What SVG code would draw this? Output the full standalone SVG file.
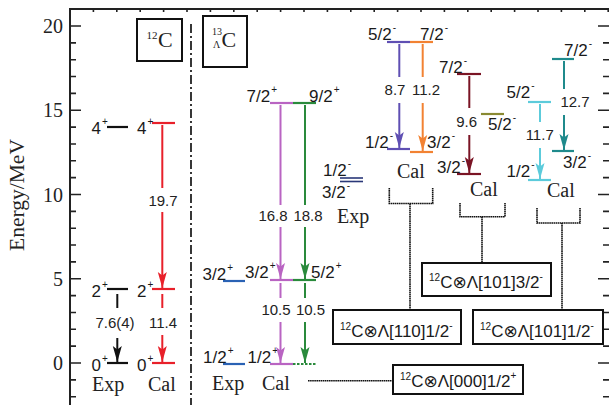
<svg xmlns="http://www.w3.org/2000/svg" width="609" height="405" viewBox="0 0 609 405">
<style>
.ax{stroke:#222;stroke-width:2;fill:none}
.tk{stroke:#222;stroke-width:1.6;fill:none}
.lv{stroke-width:2.2;fill:none}
.ar{stroke-width:2;fill:none}
.dt{stroke:#111;stroke-width:1.6;fill:none;stroke-dasharray:1.6 0.5}
.box{fill:none;stroke:#111;stroke-width:2}
.lbl{font-family:"Liberation Sans","DejaVu Sans",Arial,sans-serif;font-size:17px;fill:#1a1a1a}
.num{font-family:"Liberation Sans",Arial,sans-serif;font-size:15px;fill:#222;text-anchor:middle}
.srf{font-family:"Liberation Serif","Times New Roman",serif;font-size:20px;fill:#222}
.sp{font-size:10px}
</style>
<defs>
<marker id="mk" viewBox="0 0 16 10" refX="16" refY="5" markerWidth="16" markerHeight="10" markerUnits="userSpaceOnUse" orient="auto"><path d="M0,0.5L16,5L0,9.5L3.5,5z" fill="#111"/></marker>
<marker id="mr" viewBox="0 0 16 10" refX="16" refY="5" markerWidth="16" markerHeight="10" markerUnits="userSpaceOnUse" orient="auto"><path d="M0,0.5L16,5L0,9.5L3.5,5z" fill="#e8202a"/></marker>
<marker id="mv" viewBox="0 0 16 10" refX="16" refY="5" markerWidth="16" markerHeight="10" markerUnits="userSpaceOnUse" orient="auto"><path d="M0,0.5L16,5L0,9.5L3.5,5z" fill="#b964c2"/></marker>
<marker id="mg" viewBox="0 0 16 10" refX="16" refY="5" markerWidth="16" markerHeight="10" markerUnits="userSpaceOnUse" orient="auto"><path d="M0,0.5L16,5L0,9.5L3.5,5z" fill="#2a8a3c"/></marker>
<marker id="mb" viewBox="0 0 16 10" refX="16" refY="5" markerWidth="16" markerHeight="10" markerUnits="userSpaceOnUse" orient="auto"><path d="M0,0.5L16,5L0,9.5L3.5,5z" fill="#5f4fb3"/></marker>
<marker id="mo" viewBox="0 0 16 10" refX="16" refY="5" markerWidth="16" markerHeight="10" markerUnits="userSpaceOnUse" orient="auto"><path d="M0,0.5L16,5L0,9.5L3.5,5z" fill="#f28232"/></marker>
<marker id="md" viewBox="0 0 16 10" refX="16" refY="5" markerWidth="16" markerHeight="10" markerUnits="userSpaceOnUse" orient="auto"><path d="M0,0.5L16,5L0,9.5L3.5,5z" fill="#7a1424"/></marker>
<marker id="mc" viewBox="0 0 16 10" refX="16" refY="5" markerWidth="16" markerHeight="10" markerUnits="userSpaceOnUse" orient="auto"><path d="M0,0.5L16,5L0,9.5L3.5,5z" fill="#5ccbdb"/></marker>
<marker id="mt" viewBox="0 0 16 10" refX="16" refY="5" markerWidth="16" markerHeight="10" markerUnits="userSpaceOnUse" orient="auto"><path d="M0,0.5L16,5L0,9.5L3.5,5z" fill="#1f8a8c"/></marker>
</defs>
<rect width="609" height="405" fill="#fff"/>

<g id="axes">
<path class="ax" d="M70,405V9H609"/>
<path class="tk" d="M70,396.7h6M70,379.85h6M70,346.15h6M70,329.3h6M70,312.45h6M70,295.6h6M70,261.9h6M70,245.05h6M70,228.2h6M70,211.35h6M70,177.65h6M70,160.8h6M70,143.95h6M70,127.1h6M70,93.4h6M70,76.55h6M70,59.7h6M70,42.85h6"/>
<path class="tk" d="M70,363h11M70,278.75h11M70,194.5h11M70,110.25h11M70,26h11"/>
<path class="tk" d="M609,396.7h-6M609,379.85h-6M609,346.15h-6M609,329.3h-6M609,312.45h-6M609,295.6h-6M609,261.9h-6M609,245.05h-6M609,228.2h-6M609,211.35h-6M609,177.65h-6M609,160.8h-6M609,143.95h-6M609,127.1h-6M609,93.4h-6M609,76.55h-6M609,59.7h-6M609,42.85h-6"/>
<path class="tk" d="M609,363h-11M609,278.75h-11M609,194.5h-11M609,110.25h-11M609,26h-11"/>
<path class="tk" stroke-width="1.2" d="M93.4,9v3M116.8,9v3M140.2,9v3M163.6,9v3M187,9v3M210.4,9v3M233.8,9v3M257.2,9v3M280.6,9v3M304,9v3M327.4,9v3M350.8,9v3M374.2,9v3M397.6,9v3M421,9v3M444.4,9v3M467.8,9v3M491.2,9v3M514.6,9v3M538,9v3M561.4,9v3M584.8,9v3M608.2,9v3"/>
<g class="srf" text-anchor="end">
<text x="63" y="33">20</text>
<text x="63" y="117">15</text>
<text x="63" y="201.5">10</text>
<text x="63" y="286">5</text>
<text x="63" y="370">0</text>
</g>
<text class="srf" style="font-size:21.5px" text-anchor="middle" transform="translate(23.5,195) rotate(-90)">Energy/MeV</text>
<line x1="191" y1="24" x2="191" y2="405" stroke="#222" stroke-width="1.8" stroke-dasharray="9 3 2 3"/>
</g>

<g id="title-12C">
<rect class="box" x="137" y="19" width="45" height="42"/>
<text class="srf" x="146.5" y="39" style="font-size:11px">12</text>
<text class="srf" x="158" y="46.7" style="font-size:22px">C</text>
</g>
<g id="title-13LC">
<rect class="box" x="203" y="16" width="44" height="51"/>
<text class="srf" x="212" y="35" style="font-size:10px">13</text>
<text class="srf" x="213" y="48" style="font-size:10px">Λ</text>
<text class="srf" x="221.5" y="46.7" style="font-size:22px">C</text>
</g>

<!-- 12C levels -->
<g id="c12-exp-4p"><line class="lv" stroke="#111" x1="107" y1="127" x2="128" y2="127"/><text class="lbl" x="91.5" y="134">4<tspan class="sp" dx="1" dy="-9">+</tspan></text></g>
<g id="c12-exp-2p"><line class="lv" stroke="#111" x1="107" y1="289" x2="128" y2="289"/><text class="lbl" x="91.5" y="296.5">2<tspan class="sp" dx="1" dy="-9">+</tspan></text></g>
<g id="c12-exp-0p"><line class="lv" stroke="#111" x1="107" y1="363" x2="128" y2="363"/><text class="lbl" x="91.5" y="371">0<tspan class="sp" dx="1" dy="-9">+</tspan></text></g>
<g id="c12-cal-4p"><line class="lv" stroke="#e8202a" x1="152" y1="123" x2="175" y2="123"/><text class="lbl" x="137" y="134">4<tspan class="sp" dx="1" dy="-9">+</tspan></text></g>
<g id="c12-cal-2p"><line class="lv" stroke="#e8202a" x1="152" y1="289" x2="175" y2="289"/><text class="lbl" x="137" y="296.5">2<tspan class="sp" dx="1" dy="-9">+</tspan></text></g>
<g id="c12-cal-0p"><line class="lv" stroke="#e8202a" x1="152" y1="363" x2="175" y2="363"/><text class="lbl" x="137" y="371">0<tspan class="sp" dx="1" dy="-9">+</tspan></text></g>
<text class="srf" x="92" y="391">Exp</text>
<text class="srf" x="148" y="391">Cal</text>

<!-- 13LC exp levels -->
<g id="l13-exp-3p"><line class="lv" stroke="#2a62b4" x1="223" y1="281" x2="245" y2="281"/><text class="lbl" x="202.5" y="280">3/2<tspan class="sp" dx="1" dy="-9">+</tspan></text></g>
<g id="l13-exp-1p"><line class="lv" stroke="#2a62b4" x1="223" y1="364" x2="245" y2="364"/><text class="lbl" x="203" y="363">1/2<tspan class="sp" dx="1" dy="-9">+</tspan></text></g>
<g id="l13-exp-neg">
<line stroke="#2a3878" stroke-width="1.6" x1="340" y1="178" x2="363" y2="178"/>
<line stroke="#2a3878" stroke-width="1.6" x1="340" y1="181.5" x2="363" y2="181.5"/>
<text class="lbl" x="323" y="176">1/2<tspan class="sp" dx="1" dy="-9">-</tspan></text>
<text class="lbl" x="322" y="198">3/2<tspan class="sp" dx="1" dy="-9">-</tspan></text>
</g>
<text class="srf" x="212" y="390">Exp</text>
<text class="srf" x="337" y="223">Exp</text>

<!-- 13LC cal positive -->
<g id="l13-cal-72p"><line class="lv" stroke="#b964c2" x1="270" y1="103" x2="293" y2="103"/><text class="lbl" x="246.5" y="101.5">7/2<tspan class="sp" dx="1" dy="-9">+</tspan></text></g>
<g id="l13-cal-92p"><line class="lv" stroke="#2a8a3c" x1="293" y1="103" x2="316" y2="103"/><text class="lbl" x="309" y="101.5">9/2<tspan class="sp" dx="1" dy="-9">+</tspan></text></g>
<g id="l13-cal-32p"><line class="lv" stroke="#b964c2" x1="270" y1="280" x2="293" y2="280"/><text class="lbl" x="245" y="278">3/2<tspan class="sp" dx="1" dy="-9">+</tspan></text></g>
<g id="l13-cal-52p"><line class="lv" stroke="#2a8a3c" x1="293" y1="280" x2="316" y2="280"/><text class="lbl" x="311" y="278">5/2<tspan class="sp" dx="1" dy="-9">+</tspan></text></g>
<g id="l13-cal-12p"><line class="lv" stroke="#b964c2" x1="270" y1="364" x2="293" y2="364"/><line class="lv" stroke="#2a8a3c" stroke-dasharray="2.5 1.5" x1="293" y1="364" x2="316" y2="364"/><text class="lbl" x="247.5" y="363">1/2<tspan class="sp" dx="1" dy="-9">+</tspan></text></g>
<text class="srf" x="262" y="390">Cal</text>

<!-- group [110]1/2- -->
<g id="g1-52m"><line class="lv" stroke="#5f4fb3" x1="387" y1="42" x2="410" y2="42"/><text class="lbl" x="368" y="40">5/2<tspan class="sp" dx="1" dy="-9">-</tspan></text></g>
<g id="g1-72m"><line class="lv" stroke="#f28232" x1="410" y1="42" x2="433" y2="42"/><text class="lbl" x="420" y="40">7/2<tspan class="sp" dx="1" dy="-9">-</tspan></text></g>
<g id="g1-12m"><line class="lv" stroke="#5f4fb3" x1="387" y1="149" x2="410" y2="149"/><text class="lbl" x="365" y="148">1/2<tspan class="sp" dx="1" dy="-9">-</tspan></text></g>
<g id="g1-32m"><line class="lv" stroke="#f28232" x1="410" y1="152" x2="433" y2="152"/><text class="lbl" x="427" y="148">3/2<tspan class="sp" dx="1" dy="-9">-</tspan></text></g>
<text class="srf" x="397" y="178">Cal</text>

<!-- group [101]3/2- -->
<g id="g2-72m"><line class="lv" stroke="#7a1424" x1="457" y1="74" x2="481" y2="74"/><text class="lbl" x="439" y="73">7/2<tspan class="sp" dx="1" dy="-9">-</tspan></text></g>
<g id="g2-32m"><line class="lv" stroke="#7a1424" x1="457" y1="174" x2="481" y2="174"/><text class="lbl" x="437" y="173">3/2<tspan class="sp" dx="1" dy="-9">-</tspan></text></g>
<g id="g2-52m"><line class="lv" stroke="#8a8a32" x1="481" y1="114" x2="504" y2="114"/><text class="lbl" x="488" y="130">5/2<tspan class="sp" dx="1" dy="-9">-</tspan></text></g>
<text class="srf" x="470" y="196">Cal</text>

<!-- group [101]1/2- -->
<g id="g3-52m"><line class="lv" stroke="#5ccbdb" x1="528" y1="102" x2="551" y2="102"/><text class="lbl" x="506.5" y="98">5/2<tspan class="sp" dx="1" dy="-9">-</tspan></text></g>
<g id="g3-12m"><line class="lv" stroke="#5ccbdb" x1="528" y1="180" x2="551" y2="180"/><text class="lbl" x="506.5" y="177">1/2<tspan class="sp" dx="1" dy="-9">-</tspan></text></g>
<g id="g3-72m"><line class="lv" stroke="#1f8a8c" x1="552" y1="59" x2="574" y2="59"/><text class="lbl" x="564" y="56">7/2<tspan class="sp" dx="1" dy="-9">-</tspan></text></g>
<g id="g3-32m"><line class="lv" stroke="#1f8a8c" x1="552" y1="151" x2="574" y2="151"/><text class="lbl" x="563" y="168">3/2<tspan class="sp" dx="1" dy="-9">-</tspan></text></g>
<text class="srf" x="547" y="197">Cal</text>

<!-- configuration boxes -->
<g id="box-000"><rect class="box" x="393" y="365" width="130" height="29"/><text class="lbl" x="400" y="387"><tspan class="sp" dy="-7">12</tspan><tspan dy="7">C⊗Λ[000]1/2</tspan><tspan class="sp" dy="-8">+</tspan></text></g>
<g id="box-110"><rect class="box" x="333" y="310" width="128" height="34"/><text class="lbl" x="340" y="337"><tspan class="sp" dy="-7">12</tspan><tspan dy="7">C⊗Λ[110]1/2</tspan><tspan class="sp" dy="-8">-</tspan></text></g>
<g id="box-101-32"><rect class="box" x="422" y="263" width="129" height="33"/><text class="lbl" x="429" y="288"><tspan class="sp" dy="-7">12</tspan><tspan dy="7">C⊗Λ[101]3/2</tspan><tspan class="sp" dy="-8">-</tspan></text></g>
<g id="box-101-12"><rect class="box" x="473" y="310" width="130" height="34"/><text class="lbl" x="480" y="337"><tspan class="sp" dy="-7">12</tspan><tspan dy="7">C⊗Λ[101]1/2</tspan><tspan class="sp" dy="-8">-</tspan></text></g>

<g id="connectors">
<!-- 12C exp -->
<line class="ar" stroke="#111" x1="117.3" y1="294" x2="117.3" y2="308"/>
<line class="ar" stroke="#111" x1="117.3" y1="338" x2="117.3" y2="362" marker-end="url(#mk)"/>
<text class="num" x="115" y="328">7.6(4)</text>
<!-- 12C cal -->
<line class="ar" stroke="#e8202a" x1="162.3" y1="125" x2="162.3" y2="188"/>
<line class="ar" stroke="#e8202a" x1="162.3" y1="212" x2="162.3" y2="288" marker-end="url(#mr)"/>
<text class="num" x="163" y="206">19.7</text>
<line class="ar" stroke="#e8202a" x1="162.3" y1="294" x2="162.3" y2="308"/>
<line class="ar" stroke="#e8202a" x1="162.3" y1="335" x2="162.3" y2="362" marker-end="url(#mr)"/>
<text class="num" x="163" y="328">11.4</text>
<!-- 13LC positive -->
<line class="ar" stroke="#b964c2" x1="280.5" y1="105" x2="280.5" y2="205"/>
<line class="ar" stroke="#b964c2" x1="280.5" y1="227" x2="280.5" y2="279" marker-end="url(#mv)"/>
<text class="num" x="273" y="220.5">16.8</text>
<line class="ar" stroke="#2a8a3c" x1="305" y1="105" x2="305" y2="205"/>
<line class="ar" stroke="#2a8a3c" x1="305" y1="227" x2="305" y2="279" marker-end="url(#mg)"/>
<text class="num" x="308" y="220.5">18.8</text>
<line class="ar" stroke="#b964c2" x1="280.5" y1="283" x2="280.5" y2="298"/>
<line class="ar" stroke="#b964c2" x1="280.5" y1="322" x2="280.5" y2="363" marker-end="url(#mv)"/>
<text class="num" x="276" y="315">10.5</text>
<line class="ar" stroke="#2a8a3c" x1="305" y1="283" x2="305" y2="298"/>
<line class="ar" stroke="#2a8a3c" x1="305" y1="322" x2="305" y2="363" marker-end="url(#mg)"/>
<text class="num" x="310.5" y="315">10.5</text>
<!-- group 1 -->
<line class="ar" stroke="#5f4fb3" x1="399.3" y1="44" x2="399.3" y2="77"/>
<line class="ar" stroke="#5f4fb3" x1="399.3" y1="103" x2="399.3" y2="148" marker-end="url(#mb)"/>
<text class="num" x="395" y="95">8.7</text>
<line class="ar" stroke="#f28232" x1="422.7" y1="44" x2="422.7" y2="77"/>
<line class="ar" stroke="#f28232" x1="422.7" y1="103" x2="422.7" y2="151" marker-end="url(#mo)"/>
<text class="num" x="426" y="95">11.2</text>
<!-- group 2 -->
<line class="ar" stroke="#7a1424" x1="469.3" y1="76" x2="469.3" y2="108"/>
<line class="ar" stroke="#7a1424" x1="469.3" y1="135" x2="469.3" y2="173" marker-end="url(#md)"/>
<text class="num" x="466.7" y="126.7">9.6</text>
<!-- group 3 -->
<line class="ar" stroke="#5ccbdb" x1="540" y1="104" x2="540" y2="122"/>
<line class="ar" stroke="#5ccbdb" x1="540" y1="148" x2="540" y2="179" marker-end="url(#mc)"/>
<text class="num" x="539.7" y="140">11.7</text>
<line class="ar" stroke="#1f8a8c" x1="564" y1="61" x2="564" y2="89"/>
<line class="ar" stroke="#1f8a8c" x1="564" y1="115" x2="564" y2="150" marker-end="url(#mt)"/>
<text class="num" x="575" y="107.3">12.7</text>
<!-- dotted brackets and leaders -->
<path class="dt" d="M308,380.7H393"/>
<path class="dt" d="M389.3,188V203.5H432.7V188M410,203.5V310"/>
<path class="dt" d="M460,203V216.7H505V203M482,216.7V263"/>
<path class="dt" d="M537,208V223H580V208M562,223V310"/>
</g>
</svg>
